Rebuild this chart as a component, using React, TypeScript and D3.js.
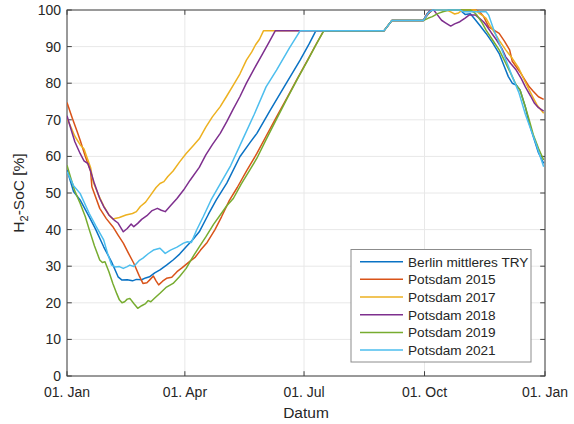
import React from "react";
import * as d3 from "d3";

// ---- data (day of year, H2-SoC in %) ----
const seriesNames = [
  "Berlin mittleres TRY",
  "Potsdam 2015",
  "Potsdam 2017",
  "Potsdam 2018",
  "Potsdam 2019",
  "Potsdam 2021",
];
const seriesColors = ["#0a72c4", "#D95319", "#EDB120", "#7E2F8E", "#77AC30", "#4DBEEE"];

const berlinDays = [0, 5, 10, 17, 22, 28, 34, 39, 42, 46, 50, 53, 57, 60, 63, 67, 71, 76, 81, 86, 91, 96, 101, 108, 114, 122, 132, 140, 145, 155, 165, 178, 185, 190, 242, 248, 272, 276, 279, 300, 304, 308, 311, 315, 320, 325, 330, 334, 337, 340, 343, 346, 350, 353, 356, 360, 364];
const berlinValues = [56.3, 50.4, 48.1, 43.5, 40, 35.3, 31.2, 27.1, 26.2, 26.3, 26, 26.4, 26.3, 26.8, 27.1, 28.2, 29, 30.3, 31.7, 33.3, 35.3, 37.2, 39.4, 44.2, 48.1, 52.7, 59.9, 63.9, 66.3, 72.5, 78.5, 86.3, 90.8, 94.3, 94.3, 97.1, 97.1, 99, 100, 100, 98.8, 99, 97.7, 95.9, 93.6, 91, 88.1, 84.5, 81.8, 80, 79.5, 78.1, 73.5, 69, 65.5, 61, 58.1];

const p2015Days = [0, 4, 8, 10, 14, 18, 19, 25, 30, 35, 39, 43, 47, 51, 55, 58, 61, 63, 66, 68, 70, 73, 76, 80, 84, 88, 94, 98, 102, 107, 113, 118, 124, 130, 137, 145, 152, 160, 168, 176, 184, 190, 196, 242, 248, 272, 276, 279, 312, 315, 318, 322, 326, 330, 334, 338, 340, 343, 346, 350, 353, 356, 360, 364];
const p2015Values = [74.7, 70.5, 66.5, 64.5, 60, 56, 51.7, 45.8, 43, 40.8, 38.5, 36.3, 33.5, 30.8, 27.5, 25.3, 25.5, 26.2, 27.3, 26, 24.9, 25.9, 26.7, 27, 28.5, 29.6, 31.4, 32.5, 34.4, 36.5, 40, 43.5, 48, 51.5, 56, 60.8, 65.5, 70.8, 76, 81.3, 86.5, 90.5, 94.3, 94.3, 97.1, 97.1, 99, 100, 100, 99.5, 98.3, 95.4, 94.5, 93.6, 91.5, 89.1, 86, 84.5, 83, 80.7, 79, 77.8, 76.3, 75.6];

const p2017Days = [0, 3, 6, 10, 13, 15, 18, 20, 24, 28, 32, 35, 40, 45, 50, 53, 56, 60, 64, 68, 71, 74, 77, 81, 86, 91, 96, 101, 106, 111, 117, 122, 127, 132, 137, 141, 144, 147, 150, 242, 248, 272, 275, 278, 290, 293, 296, 299, 302, 312, 315, 318, 320, 323, 326, 330, 335, 340, 345, 349, 353, 356, 359, 364];
const p2017Values = [70.4, 68, 65.5, 63.2, 62, 60, 57, 53, 49.5, 46.5, 44, 42.9, 43.3, 44, 44.4, 44.9, 46.3, 47.5, 49.5, 51.5, 52.6, 53.1, 54.5, 56, 58.5, 60.8, 62.8, 64.8, 68, 70.8, 73.6, 76.5, 79.5, 82.5, 86.3, 88.5, 90.5, 92, 94.3, 94.3, 97.1, 97.1, 99, 100, 100, 99.5, 98.9, 99.2, 100, 100, 99, 98.3, 97.7, 95.8, 94.1, 91.7, 89.1, 86.8, 84.1, 81, 78.1, 76, 74, 71.8];

const p2018Days = [0, 3, 6, 10, 13, 16, 18, 21, 25, 28, 32, 36, 39, 43, 46, 49, 51, 54, 57, 61, 65, 69, 72, 75, 79, 84, 89, 94, 101, 106, 111, 117, 122, 127, 132, 137, 143, 149, 154, 159, 242, 248, 272, 275, 277, 280, 283, 286, 289, 293, 296, 300, 304, 307, 312, 315, 318, 320, 324, 328, 332, 335, 339, 343, 347, 350, 354, 357, 360, 364];
const p2018Values = [71.1, 67.5, 64, 60.8, 58.8, 58, 56, 52.5, 48.5, 46.3, 44, 42.6, 41.8, 39.4, 40.3, 41.5, 40.8, 41.7, 42.8, 43.8, 45.2, 45.8, 45.3, 44.9, 46.5, 48.5, 50.8, 53.5, 57, 60.4, 63.2, 66.3, 69.5, 73, 76.3, 80, 84, 87.8, 91, 94.3, 94.3, 97.1, 97.1, 99, 99.8, 100, 98.6, 97.2, 96.5, 95.6, 96.2, 96.8, 97.8, 98.6, 98.6, 97.7, 96.8, 95.9, 93.8, 91.8, 89.5, 87.2, 85.3, 83.6, 81.2, 79, 76.5, 74.5, 73.3, 72.4];

const p2019Days = [0, 3, 6, 10, 14, 17, 21, 25, 27, 29, 32, 35, 38, 40, 42, 44, 46, 48, 51, 54, 57, 60, 62, 64, 67, 71, 76, 81, 86, 91, 96, 101, 106, 112, 117, 122, 127, 133, 140, 145, 152, 160, 168, 176, 184, 190, 196, 242, 248, 272, 276, 279, 283, 287, 292, 308, 311, 313, 317, 320, 325, 330, 335, 340, 343, 346, 350, 353, 356, 360, 364];
const p2019Values = [57.6, 54, 50.5, 47.2, 43.5, 40, 35.5, 31.7, 31, 31.2, 28.5, 25.3, 22.5, 20.8, 20, 20.3, 21, 21.2, 19.8, 18.5, 19.2, 19.8, 20.6, 20.3, 21.3, 22.6, 24.3, 25.3, 27.2, 29.4, 32.5, 35.3, 38, 41.5, 44, 46.5, 48.5, 52.4, 56.5, 59.5, 64.6, 70.2, 75.8, 81.2, 86.4, 90.4, 94.3, 94.3, 97.1, 97.1, 97.8, 98.2, 99, 99.5, 100, 100, 99.3, 98.6, 96.5, 94.5, 91.8, 89.1, 85.5, 81.8, 79.5, 78.1, 73.5, 69.9, 66, 62.2, 59];

const p2021Days = [0, 5, 10, 17, 22, 28, 31, 34, 37, 40, 43, 46, 48, 51, 55, 58, 62, 66, 71, 75, 79, 84, 89, 92, 95, 99, 104, 110, 117, 125, 134, 143, 152, 160, 170, 178, 242, 248, 272, 276, 279, 300, 303, 320, 322, 326, 330, 335, 340, 345, 350, 355, 358, 364];
const p2021Values = [55.8, 52, 49.9, 44.4, 41, 37.2, 33.5, 30.3, 29.8, 29.9, 29.4, 29.9, 30.3, 29.9, 31.5, 32.2, 33.4, 34.4, 34.9, 33.5, 34.4, 35.2, 36.3, 36.7, 36.5, 39.9, 43.5, 48.1, 52.5, 57.5, 64.5, 71.5, 79, 83.6, 89.7, 94.3, 94.3, 97.1, 97.1, 99.3, 100, 100, 99.5, 99.5, 98.6, 94.5, 91, 86.5, 81.8, 77.5, 71.5, 66.5, 63.6, 57.2];

const seriesDays = [berlinDays, p2015Days, p2017Days, p2018Days, p2019Days, p2021Days];
const seriesValues = [berlinValues, p2015Values, p2017Values, p2018Values, p2019Values, p2021Values];

const yTicks = [0, 10, 20, 30, 40, 50, 60, 70, 80, 90, 100];
const yLabel = "H";
const yLabelSub = "2";
const yLabelRest = "-SoC [%]";
const xLabel = "Datum";

// ---- layout ----
const W = 574;
const H = 424;
const L = 67, R = 545, T = 10, B = 376;
const FONT = "'Liberation Sans', Arial, Helvetica, sans-serif";
const AX = "#404040";
const TXT = "#262626";
const GRID = "#e8e8e8";

const start = new Date(2021, 0, 1);
const end = new Date(2022, 0, 1);

export default function App() {
  const x = d3.scaleTime().domain([start, end]).range([L, R]);
  const y = d3.scaleLinear().domain([0, 100]).range([B, T]);
  const xTicks = x.ticks(d3.timeMonth.every(3) as any);
  const fmt = d3.timeFormat("%d. %b");

  const line = d3
    .line<[number, number]>()
    .x((d) => x(d3.timeDay.offset(start, d[0])))
    .y((d) => y(d[1]));

  const tl = 4.8;
  const legX = 351, legY = 249.5, legW = 180, legH = 112.5;
  const rowH = 17.67;

  return (
    <svg width={W} height={H} style={{ position: "absolute", left: 0, top: 0, background: "#fff" }} fontFamily={FONT}>
      <defs>
        <clipPath id="plotclip">
          <rect x={L} y={T - 1} width={R - L} height={B - T + 1} />
        </clipPath>
      </defs>
      <rect x={0} y={0} width={W} height={H} fill="#fff" />
      {/* grid */}
      {yTicks.map((t) => (
        <line key={"gy" + t} x1={L} x2={R} y1={y(t)} y2={y(t)} stroke={GRID} strokeWidth={1} />
      ))}
      {xTicks.map((t, i) => (
        <line key={"gx" + i} x1={x(t)} x2={x(t)} y1={T} y2={B} stroke={GRID} strokeWidth={1} />
      ))}
      {/* box */}
      <rect x={L} y={T} width={R - L} height={B - T} fill="none" stroke={AX} strokeWidth={1} />
      {/* ticks */}
      {yTicks.map((t) => (
        <g key={"ty" + t}>
          <line x1={L} x2={L + tl} y1={y(t)} y2={y(t)} stroke={AX} />
          <line x1={R} x2={R - tl} y1={y(t)} y2={y(t)} stroke={AX} />
          <text x={L - 6} y={y(t)} dy="0.36em" textAnchor="end" fontSize={14} fill={TXT}>
            {t}
          </text>
        </g>
      ))}
      {xTicks.map((t, i) => (
        <g key={"tx" + i}>
          <line x1={x(t)} x2={x(t)} y1={B} y2={B - tl} stroke={AX} />
          <line x1={x(t)} x2={x(t)} y1={T} y2={T + tl} stroke={AX} />
          <text x={x(t)} y={397} textAnchor="middle" fontSize={14} fill={TXT}>
            {fmt(t)}
          </text>
        </g>
      ))}
      {/* series */}
      <g clipPath="url(#plotclip)">
        {seriesDays.map((days, i) => {
          const pts = days.map((d, j) => [d, seriesValues[i][j]] as [number, number]);
          return (
            <path key={"s" + i} d={line(pts) || ""} fill="none" stroke={seriesColors[i]} strokeWidth={1.5} strokeLinejoin="round" />
          );
        })}
      </g>
      {/* axis labels */}
      <text x={(L + R) / 2} y={418} textAnchor="middle" fontSize={15.5} fill={TXT}>
        {xLabel}
      </text>
      <text transform={`translate(24,${(T + B) / 2}) rotate(-90)`} textAnchor="middle" fontSize={15.5} fill={TXT}>
        {yLabel}
        <tspan fontSize={11} dy={4}>{yLabelSub}</tspan>
        <tspan dy={-4}>{yLabelRest}</tspan>
      </text>
      {/* legend */}
      <rect x={legX} y={legY} width={legW} height={legH} fill="#fff" stroke="#8c8c8c" strokeWidth={1} />
      {seriesNames.map((n, i) => {
        const cy = 261.7 + i * rowH;
        return (
          <g key={"l" + i}>
            <line x1={360} x2={403} y1={cy} y2={cy} stroke={seriesColors[i]} strokeWidth={1.5} />
            <text x={408} y={cy} dy="0.36em" fontSize={13.6} fill={TXT}>
              {n}
            </text>
          </g>
        );
      })}
    </svg>
  );
}
